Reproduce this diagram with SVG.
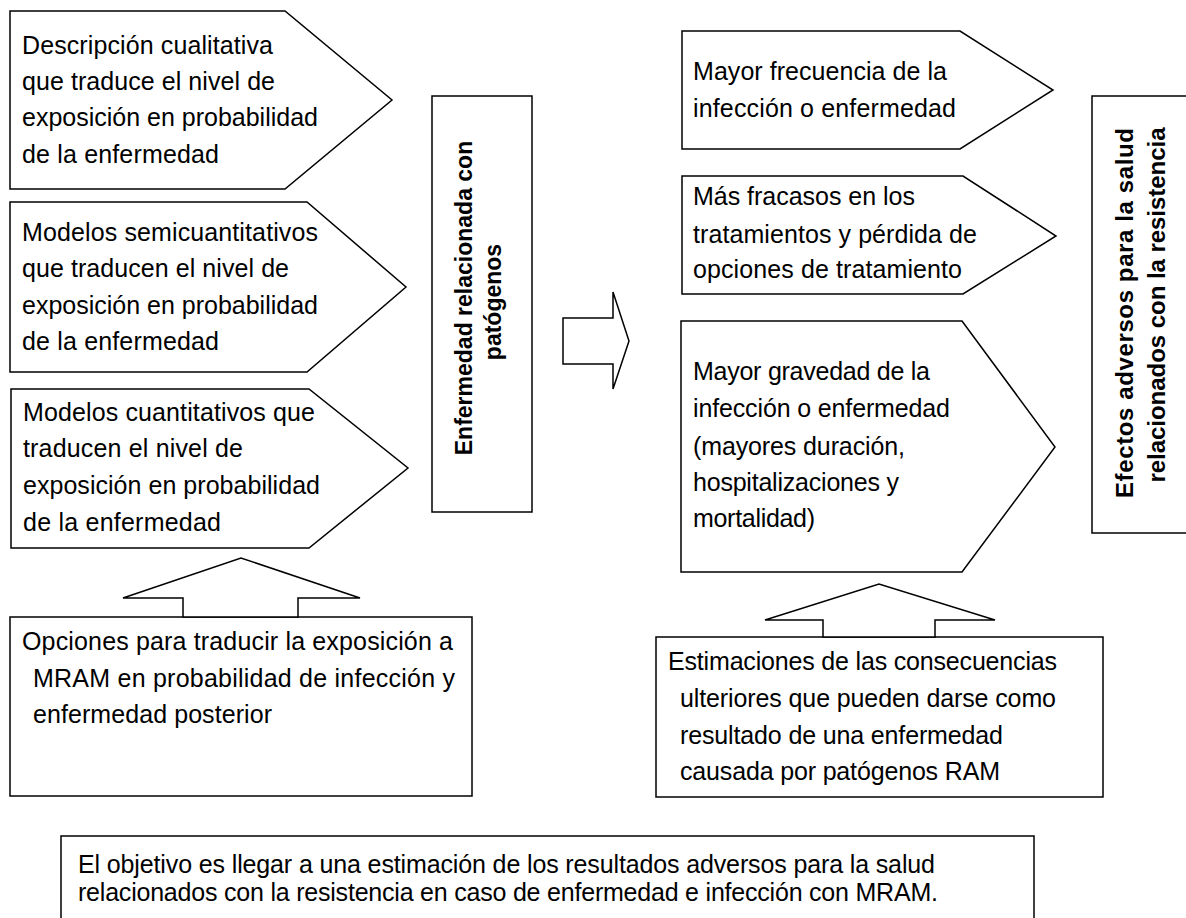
<svg xmlns="http://www.w3.org/2000/svg" width="1186" height="918" viewBox="0 0 1186 918">
<style>
.s{fill:#fff;stroke:#000;stroke-width:1.5}
.t{font-family:"Liberation Sans",Arial,sans-serif;font-size:25px;fill:#000}
.b{font-family:"Liberation Sans",Arial,sans-serif;font-size:23px;font-weight:bold;fill:#000}
.b2{font-family:"Liberation Sans",Arial,sans-serif;font-size:24px;font-weight:bold;fill:#000}
</style>
<rect width="1186" height="918" fill="#fff"/>
<g id="n1">
<polygon class="s" points="10,11 285,11 392,100 285,189 10,189"/>
<text class="t" x="22" y="54" textLength="251">Descripción cualitativa</text>
<text class="t" x="22" y="90" textLength="253">que traduce el nivel de</text>
<text class="t" x="22" y="126" textLength="296">exposición en probabilidad</text>
<text class="t" x="22" y="163" textLength="197">de la enfermedad</text>
</g>
<g id="n2">
<polygon class="s" points="10,202 307,202 406,287 307,372 10,372"/>
<text class="t" x="22" y="241" textLength="296">Modelos semicuantitativos</text>
<text class="t" x="22" y="277" textLength="267">que traducen el nivel de</text>
<text class="t" x="22" y="314" textLength="296">exposición en probabilidad</text>
<text class="t" x="22" y="350" textLength="197">de la enfermedad</text>
</g>
<g id="n3">
<polygon class="s" points="11,389 309,389 408,468 309,548 11,548"/>
<text class="t" x="23" y="421" textLength="292">Modelos cuantitativos que</text>
<text class="t" x="23" y="457" textLength="220">traducen el nivel de</text>
<text class="t" x="23" y="494" textLength="297">exposición en probabilidad</text>
<text class="t" x="23" y="531" textLength="198">de la enfermedad</text>
</g>
<g id="n4">
<rect class="s" x="10" y="617" width="462" height="179"/>
<text class="t" x="22" y="650" textLength="431">Opciones para traducir la exposición a</text>
<text class="t" x="33" y="687" textLength="422">MRAM en probabilidad de infección y</text>
<text class="t" x="33" y="723" textLength="239">enfermedad posterior</text>
</g>
<g id="n5">
<rect class="s" x="432" y="96" width="100" height="416"/>
<text class="b" transform="translate(472,298) rotate(-90)" text-anchor="middle">Enfermedad relacionada con</text>
<text class="b" transform="translate(501,302) rotate(-90)" text-anchor="middle">patógenos</text>
</g>
<g id="n6">
<polygon class="s" points="682,31 960,31 1053,90 960,149 682,149"/>
<text class="t" x="693" y="80" textLength="254">Mayor frecuencia de la</text>
<text class="t" x="693" y="117" textLength="263">infección o enfermedad</text>
</g>
<g id="n7">
<polygon class="s" points="682,176 963,176 1056,236 963,294 682,294"/>
<text class="t" x="693" y="205" textLength="222">Más fracasos en los</text>
<text class="t" x="693" y="243" textLength="284">tratamientos y pérdida de</text>
<text class="t" x="693" y="278" textLength="269">opciones de tratamiento</text>
</g>
<g id="n8">
<polygon class="s" points="681,321 962,321 1055,447 962,572 681,572"/>
<text class="t" x="693" y="380" textLength="237">Mayor gravedad de la</text>
<text class="t" x="693" y="417" textLength="257">infección o enfermedad</text>
<text class="t" x="693" y="455" textLength="212">(mayores duración,</text>
<text class="t" x="693" y="491" textLength="206">hospitalizaciones y</text>
<text class="t" x="693" y="527" textLength="122">mortalidad)</text>
</g>
<g id="n9">
<rect class="s" x="656" y="637" width="447" height="160"/>
<text class="t" x="668" y="670" textLength="389">Estimaciones de las consecuencias</text>
<text class="t" x="680" y="707" textLength="376">ulteriores que pueden darse como</text>
<text class="t" x="680" y="744" textLength="323">resultado de una enfermedad</text>
<text class="t" x="680" y="780" textLength="320">causada por patógenos RAM</text>
</g>
<g id="n10">
<rect class="s" x="1092" y="96" width="110" height="437"/>
<text class="b2" transform="translate(1133,313) rotate(-90)" text-anchor="middle" textLength="370">Efectos adversos para la salud</text>
<text class="b2" transform="translate(1165,305) rotate(-90)" text-anchor="middle" textLength="355">relacionados con la resistencia</text>
</g>
<g id="n11">
<rect class="s" x="61" y="836" width="973" height="84"/>
<text class="t" x="78" y="873" textLength="857">El objetivo es llegar a una estimación de los resultados adversos para la salud</text>
<text class="t" x="78" y="901" textLength="860">relacionados con la resistencia en caso de enfermedad e infección con MRAM.</text>
</g>
<g id="connectors">
<polygon class="s" points="183,617 183,598 123,598 241,558 360,598 298,598 298,617"/>
<polygon class="s" points="563,318 613,318 613,292 629,341 613,389 613,364 563,364"/>
<polygon class="s" points="823,637 823,620 765,620 879,584 995,620 935,620 935,637"/>
</g>
</svg>
